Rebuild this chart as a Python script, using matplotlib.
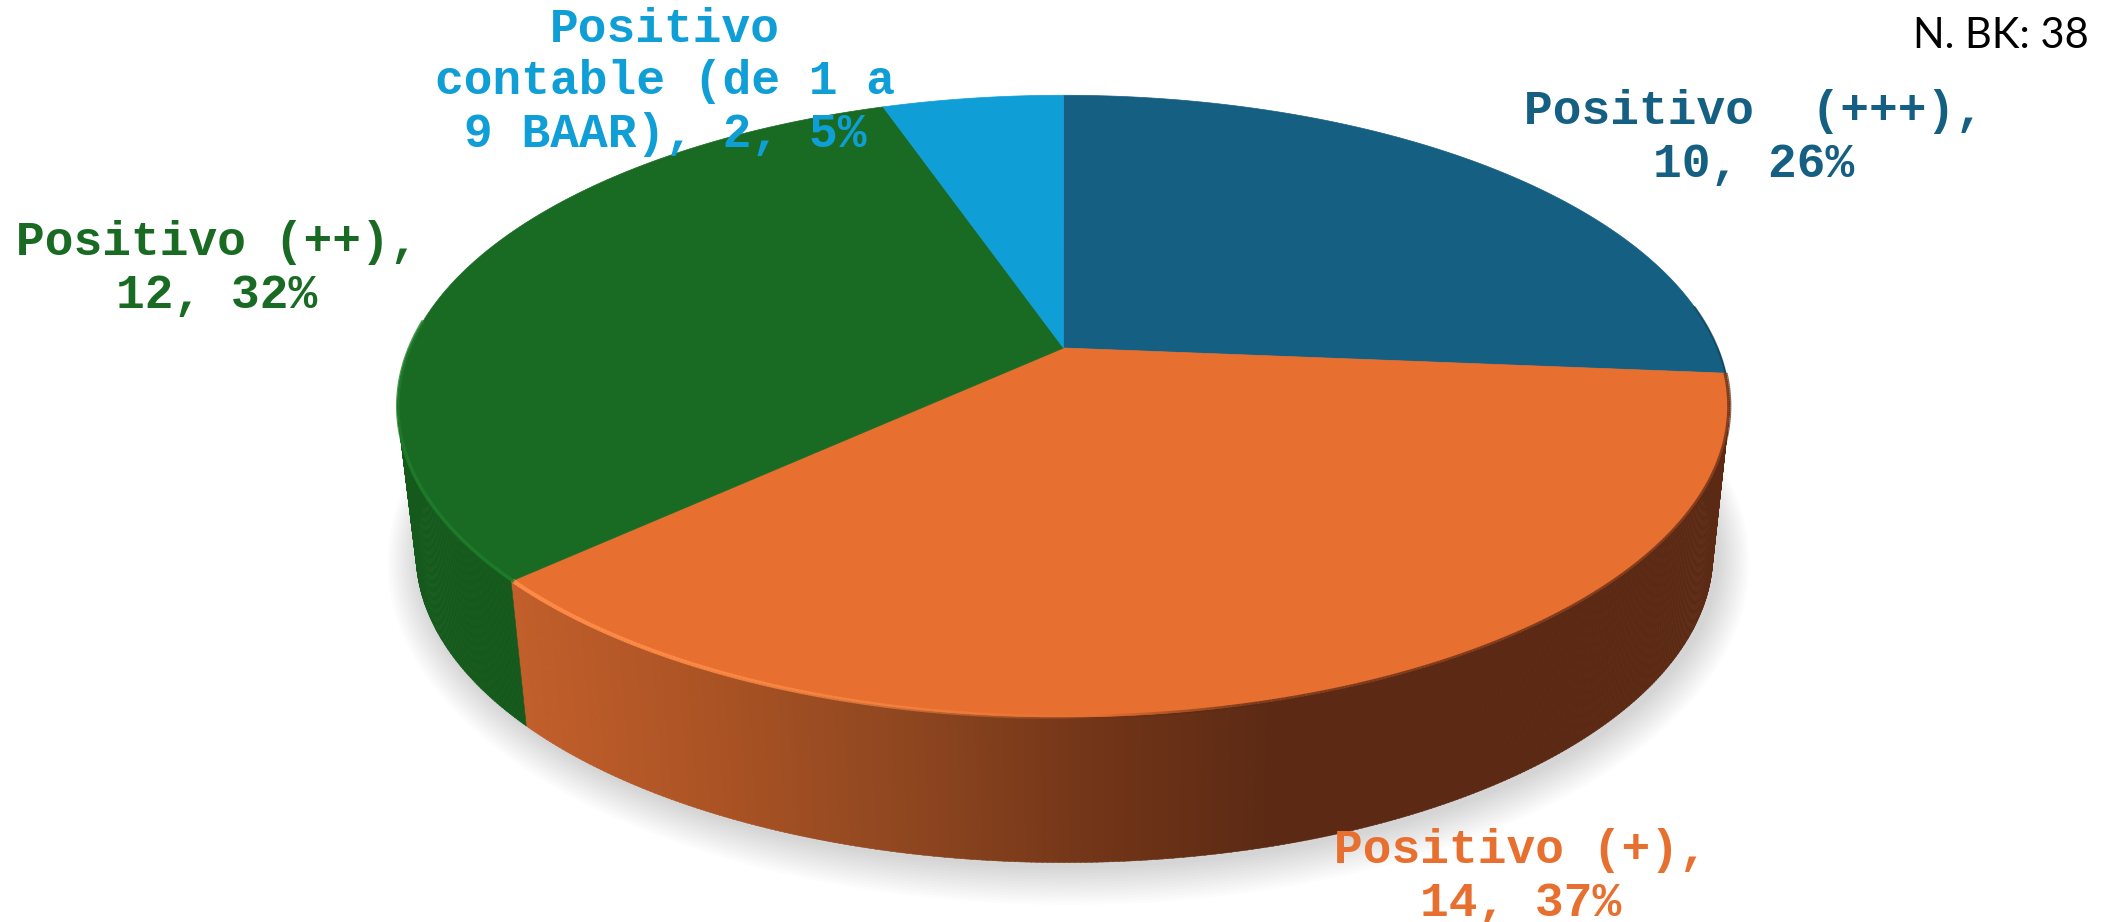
import numpy as np
import matplotlib
matplotlib.use("Agg")
import matplotlib.pyplot as plt
from matplotlib.collections import PolyCollection, LineCollection
from matplotlib.colors import to_rgb

# data, clockwise from 12 o'clock
labels = [["Positivo  (+++),", "10, 26%"],
          ["Positivo (+),", "14, 37%"],
          ["Positivo (++),", "12, 32%"],
          ["Positivo", "contable (de 1 a", "9 BAAR), 2, 5%"]]
values = [10, 14, 12, 2]
colors = ["#156082", "#E76F30", "#196B24", "#0F9ED5"]
side_colors = ["#0F4860", None, "#155A1C", "#0B7AA5"]
label_x = [1754, 1521, 217, 665]
label_y = [177, 916, 308, 147]

# pie geometry in image pixels
cx, cy = 1063.5, 348
a_top, b_top = 654, 300
a_low, b_low = 637, 298
cx_low, cy_low = 1064.5, 496
k = 0.187


def project(theta, r=1.0, a=a_top, b=b_top, x0=cx, y0=cy, grow=0):
    # theta clockwise from the top of the pie, simple perspective
    px = r * np.sin(theta)
    py = r * np.cos(theta)
    d = 1 + k * py
    return x0 + (a + grow) * px / d, y0 - (b + grow) * py / d


def orange_side(x):
    stops = [515, 700, 900, 1100, 1270]
    reds = [0xC2, 0xAD, 0x90, 0x72, 0x5C]
    greens = [0x5F, 0x54, 0x47, 0x35, 0x2A]
    blues = [0x2B, 0x25, 0x20, 0x18, 0x14]
    return (np.interp(x, stops, reds) / 255,
            np.interp(x, stops, greens) / 255,
            np.interp(x, stops, blues) / 255)


fig = plt.figure(figsize=(21.23, 9.22), dpi=100)
ax = fig.add_axes([0, 0, 1, 1])
ax.set_xlim(0, 2123)
ax.set_ylim(922, 0)
ax.axis("off")

edges = np.deg2rad(np.concatenate([[0], np.cumsum(values) / sum(values) * 360]))

# soft shadow under the pie
full = np.linspace(0, 2 * np.pi, 361)
for g in np.linspace(32, 2, 14):
    sx, sy = project(full, a=a_low, b=b_low, x0=cx_low + 4, y0=cy_low + 3, grow=g)
    ax.fill(sx, sy, color="black", alpha=0.010, lw=0, zorder=1)

# side wall, thin quads painted left to right
quads = []
quad_cols = []
side_t = np.deg2rad(np.arange(90, 270, 0.4))
for t0 in side_t:
    t1 = t0 + np.deg2rad(0.45)
    x0, y0 = project(t0)
    x1, y1 = project(t1)
    x2, y2 = project(t1, a=a_low, b=b_low, x0=cx_low, y0=cy_low)
    x3, y3 = project(t0, a=a_low, b=b_low, x0=cx_low, y0=cy_low)
    quads.append([(x0, y0), (x1, y1), (x2, y2), (x3, y3)])
    i = np.searchsorted(edges, t0 + 1e-6) - 1
    if i == 1:
        quad_cols.append(orange_side((x0 + x3) / 2))
    else:
        quad_cols.append(to_rgb(side_colors[i]))
ax.add_collection(PolyCollection(quads, facecolors=quad_cols, edgecolors=quad_cols,
                                 linewidths=0.4, zorder=2))

# top face
for i in range(len(values)):
    t = np.linspace(edges[i], edges[i + 1], 200)
    x, y = project(t)
    ax.fill(np.r_[cx, x], np.r_[cy, y], facecolor=colors[i], edgecolor=colors[i],
            lw=0.5, zorder=3)

# bevel along the rim: light on the left of the orange, dark on the right
t = np.linspace(edges[1], edges[2], 400)
x, y = project(t)
segs = [[(x[j], y[j]), (x[j + 1], y[j + 1])] for j in range(len(x) - 1)]
seg_cols = []
for j in range(len(x) - 1):
    f = np.clip((x[j] - 500) / 600, 0, 1)
    glow = np.array(to_rgb("#FF8C48"))
    dark = np.array(to_rgb("#5C2A14"))
    if x[j] < 1100:
        seg_cols.append((*glow, 1 - f ** 2))
    else:
        seg_cols.append((*dark, min((x[j] - 1100) / 200, 0.75)))
ax.add_collection(LineCollection(segs, colors=seg_cols, linewidths=3, zorder=4))

t = np.linspace(edges[2], np.deg2rad(275), 120)
x, y = project(t)
ax.plot(x, y, color="#1F7F2B", lw=2.5, alpha=0.8, zorder=4)
t = np.linspace(np.deg2rad(82), edges[1], 40)
x, y = project(t)
ax.plot(x, y, color="#0D3F55", lw=1.5, alpha=0.7, zorder=4)

# data labels
for i in range(len(values)):
    ax.text(label_x[i], label_y[i], "\n".join(labels[i]), color=colors[i],
            family="Liberation Mono", weight="bold", fontsize=34.5, ha="center",
            va="baseline", linespacing=1.22, zorder=6)

ax.text(2089, 36, "N. BK: 38", color="black", family="Lato", fontsize=30,
        ha="right", va="center", zorder=6)

fig.savefig("out.png", dpi=100)
